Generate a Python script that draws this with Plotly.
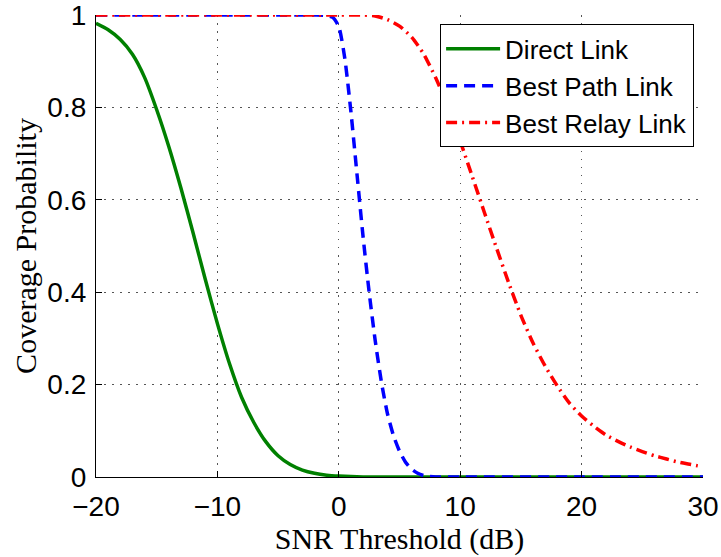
import plotly.graph_objects as go

# SNR threshold (dB) sample points and coverage probabilities per link type
direct_snr = [-20, -19, -18, -17, -16, -15, -14, -13, -12, -11, -10, -9, -8, -7, -6, -5, -4, -3, -2, -1, 0, 2, 5, 10, 20, 30]
direct_cov = [0.982, 0.968, 0.947, 0.915, 0.865, 0.795, 0.715, 0.625, 0.528, 0.428, 0.332, 0.245, 0.172, 0.118, 0.076, 0.046, 0.027, 0.015, 0.008, 0.004, 0.002, 0.0, 0.0, 0.0, 0.0, 0.0]

path_snr = [-20, -10, -2, -1, -0.5, 0, 0.5, 1, 1.5, 2, 2.5, 3, 3.5, 4, 4.5, 5, 5.5, 6, 6.5, 7, 7.5, 8, 10, 20, 30]
path_cov = [1.0, 1.0, 1.0, 0.999, 0.995, 0.975, 0.905, 0.79, 0.655, 0.52, 0.4, 0.295, 0.207, 0.138, 0.09, 0.056, 0.032, 0.017, 0.008, 0.003, 0.001, 0.0, 0.0, 0.0, 0.0]

relay_snr = [-20, -10, 0, 2, 3, 4, 5, 6, 7, 8, 9, 10, 11, 12, 13, 14, 15, 16, 17, 18, 19, 20, 21, 22, 23, 24, 25, 26, 27, 28, 29, 30]
relay_cov = [1.0, 1.0, 1.0, 1.0, 0.998, 0.99, 0.976, 0.952, 0.915, 0.863, 0.8, 0.727, 0.65, 0.572, 0.495, 0.42, 0.35, 0.29, 0.24, 0.197, 0.16, 0.132, 0.11, 0.091, 0.077, 0.065, 0.055, 0.046, 0.039, 0.032, 0.027, 0.022]

x_ticks = [-20, -10, 0, 10, 20, 30]
y_ticks = [0, 0.2, 0.4, 0.6, 0.8, 1]
y_tick_text = ["0", "0.2", "0.4", "0.6", "0.8", "1"]

fig = go.Figure()
fig.add_trace(go.Scatter(
    x=direct_snr, y=direct_cov, mode="lines", name="Direct Link",
    line=dict(color="#008000", width=3.5, shape="spline", smoothing=0.6),
))
fig.add_trace(go.Scatter(
    x=path_snr, y=path_cov, mode="lines", name="Best Path Link",
    line=dict(color="#0000ff", width=3.5, dash="11px,7px", shape="spline", smoothing=0.6),
))
fig.add_trace(go.Scatter(
    x=relay_snr, y=relay_cov, mode="lines", name="Best Relay Link",
    line=dict(color="#ff0000", width=3.5, dash="11px,5px,2px,5px", shape="spline", smoothing=0.6),
))

axis_font = dict(family="Liberation Sans, Arial, sans-serif", size=28, color="black")
title_font = dict(family="Liberation Serif, Times New Roman, serif", size=30, color="black")

grid_style = dict(showgrid=True, gridcolor="#555555", griddash="1.5px,6.5px", gridwidth=1)

fig.update_layout(
    width=721, height=557,
    margin=dict(l=96, r=18, t=15, b=80),
    paper_bgcolor="white", plot_bgcolor="white",
    showlegend=True,
    legend=dict(
        x=0.985, y=0.98, xanchor="right", yanchor="top",
        bgcolor="white", bordercolor="black", borderwidth=1.2,
        font=dict(family="Liberation Sans, Arial, sans-serif", size=26, color="black"),
        itemwidth=54, tracegroupgap=0,
    ),
    xaxis=dict(
        range=[-20, 30], tickvals=x_ticks, automargin=False,
        zeroline=False, showline=True, linecolor="black", linewidth=1.2,
        ticks="inside", ticklen=6, tickcolor="black", ticklabelstandoff=4,
        ticklabeloverflow="allow",
        tickfont=axis_font,
        title=dict(text="SNR Threshold (dB)", font=title_font, standoff=5),
        **grid_style,
    ),
    yaxis=dict(
        range=[0, 1], tickvals=y_ticks, ticktext=y_tick_text, automargin=False,
        zeroline=False, showline=True, linecolor="black", linewidth=1.2,
        ticks="inside", ticklen=6, tickcolor="black", ticklabelstandoff=3,
        ticklabeloverflow="allow",
        tickfont=axis_font,
        title=dict(text="Coverage Probability", font=title_font, standoff=1),
        **grid_style,
    ),
)

fig.write_html("out.html")
